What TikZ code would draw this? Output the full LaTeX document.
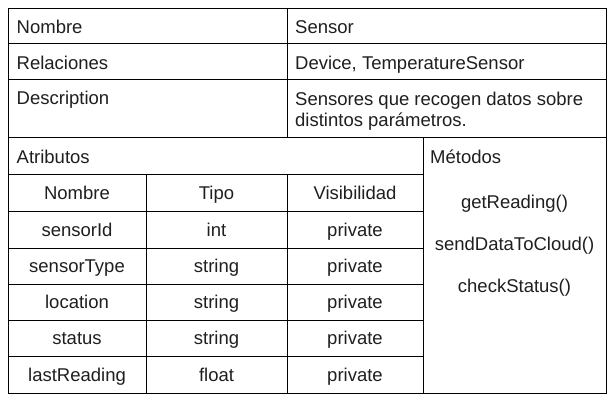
\documentclass[tikz,border=0pt]{standalone}
\usepackage{fontspec}
\setmainfont{Liberation Sans}
\begin{document}
\begin{tikzpicture}[x=1pt,y=-1pt,
  cell/.style={draw=black,line width=1pt,inner sep=0pt,outer sep=0pt,anchor=north west},
  txt/.style={inner sep=0pt,font=\fontsize{18.5}{21}\selectfont,text=black!88},
  ltxt/.style={txt,anchor=base west},
  ctxt/.style={txt,anchor=base}]
\useasboundingbox[fill=white] (0,0) rectangle (614,400);
% upper key/value rows
\node[cell,minimum width=279pt,minimum height=35pt] (k1) at (8,8) {};
\node[cell,minimum width=319pt,minimum height=35pt] (v1) at (287,8) {};
\node[cell,minimum width=279pt,minimum height=36pt] (k2) at (8,43) {};
\node[cell,minimum width=319pt,minimum height=36pt] (v2) at (287,43) {};
\node[cell,minimum width=279pt,minimum height=58pt] (k3) at (8,79) {};
\node[cell,minimum width=319pt,minimum height=58pt] (v3) at (287,79) {};
% attributes and methods blocks
\node[cell,minimum width=415pt,minimum height=37pt] (attr) at (8,137) {};
\node[cell,minimum width=183pt,minimum height=256pt] (meth) at (423,137) {};
% attribute table
\foreach \r/\y/\h in {0/174/37,1/211/37,2/248/36,3/284/36,4/320/36,5/356/37}{
  \node[cell,minimum width=138pt,minimum height=\h pt] (a\r) at (8,\y) {};
  \node[cell,minimum width=141pt,minimum height=\h pt] (b\r) at (146,\y) {};
  \node[cell,minimum width=136pt,minimum height=\h pt] (c\r) at (287,\y) {};
}
% texts
\node[ltxt] (t1) at (16.5,33.3) {Nombre};
\node[ltxt] (t2) at (295,33.3) {Sensor};
\node[ltxt] (t3) at (16.5,69.7) {Relaciones};
\node[ltxt] (t4) at (295,69.7) {Device, TemperatureSensor};
\node[ltxt] (t5) at (16.5,104.9) {Description};
\node[ltxt] (t6a) at (295,105.3) {Sensores que recogen datos sobre};
\node[ltxt] (t6b) at (295,126) {distintos parámetros.};
\node[ltxt] (t7) at (16.5,163) {Atributos};
\node[ltxt] (t8) at (430,163) {Métodos};
\node[ctxt] (h1) at ([yshift=-6.9pt]a0.center) {Nombre};
\node[ctxt] (h2) at ([yshift=-6.9pt]b0.center) {Tipo};
\node[ctxt] (h3) at ([yshift=-6.9pt]c0.center) {Visibilidad};
\foreach \r/\n/\t in {1/sensorId/int,2/sensorType/string,3/location/string,4/status/string,5/lastReading/float}{
  \node[ctxt] (n\r) at ([yshift=-6.9pt]a\r.center) {\n};
  \node[ctxt] (p\r) at ([yshift=-6.9pt]b\r.center) {\t};
  \node[ctxt] (v\r) at ([yshift=-6.9pt]c\r.center) {private};
}
\node[ctxt] (m1) at (514.5,208.7) {getReading()};
\node[ctxt] (m2) at (514.5,250.3) {sendDataToCloud()};
\node[ctxt] (m3) at (514.5,292.7) {checkStatus()};
\end{tikzpicture}
\end{document}
